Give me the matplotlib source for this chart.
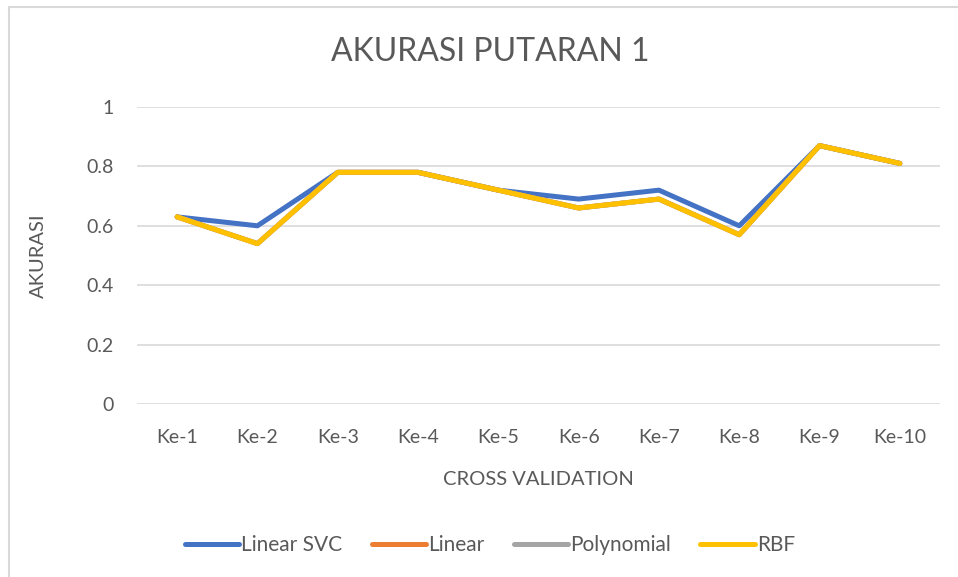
import matplotlib.pyplot as plt
from matplotlib.patches import Rectangle

# data
folds = ["Ke-1", "Ke-2", "Ke-3", "Ke-4", "Ke-5", "Ke-6", "Ke-7", "Ke-8", "Ke-9", "Ke-10"]
linear_svc = [0.63, 0.60, 0.78, 0.78, 0.72, 0.69, 0.72, 0.60, 0.87, 0.81]
linear = [0.63, 0.54, 0.78, 0.78, 0.72, 0.66, 0.69, 0.57, 0.87, 0.81]
polynomial = [0.63, 0.54, 0.78, 0.78, 0.72, 0.66, 0.69, 0.57, 0.87, 0.81]
rbf = [0.63, 0.54, 0.78, 0.78, 0.72, 0.66, 0.69, 0.57, 0.87, 0.81]
y_ticks = [0, 0.2, 0.4, 0.6, 0.8, 1]

text_color = "#595959"
plt.rcParams["font.family"] = ["Lato", "DejaVu Sans"]

fig = plt.figure(figsize=(9.58, 5.77), dpi=100)
ax = fig.add_axes([137 / 958, 1 - 404 / 577, (940 - 137) / 958, (404 - 107) / 577])

# chart border (cut off on right and bottom in the original)
fig.patches.append(Rectangle((9 / 958, -0.05), 1.2, 1 - 7 / 577 + 0.05,
                             transform=fig.transFigure, fill=False,
                             edgecolor="#D9D9D9", linewidth=1.5))

x = range(len(folds))
series = [
    ("Linear SVC", linear_svc, "#4472C4"),
    ("Linear", linear, "#ED7D31"),
    ("Polynomial", polynomial, "#A5A5A5"),
    ("RBF", rbf, "#FFC000"),
]
for name, values, color in series:
    ax.plot(x, values, color=color, linewidth=3.6, label=name,
            solid_capstyle="round", solid_joinstyle="round")

ax.set_xlim(-0.5, len(folds) - 0.5)
ax.set_ylim(0, 1)
ax.set_yticks(y_ticks)
ax.set_yticklabels(["0", "0.2", "0.4", "0.6", "0.8", "1"])
ax.set_xticks(list(x))
ax.set_xticklabels(folds)
ax.grid(axis="y", color="#D9D9D9", linewidth=1.2)
ax.set_axisbelow(True)
for s in ax.spines.values():
    s.set_visible(False)
ax.tick_params(axis="both", length=0, colors=text_color, labelsize=14)
ax.tick_params(axis="y", pad=17)
ax.tick_params(axis="x", pad=18)

fig.text(490 / 958, 1 - 52 / 577, "AKURASI PUTARAN 1", fontsize=23,
         color=text_color, ha="center", va="center")
ax.set_xlabel("CROSS VALIDATION", fontsize=14.5, color=text_color, labelpad=18)
ax.set_ylabel("AKURASI", fontsize=14.5, color=text_color, labelpad=28)

leg = fig.legend(loc="center", bbox_to_anchor=(490 / 958, 1 - 545 / 577), ncol=4,
                 frameon=False, fontsize=15, handlelength=2.6, handletextpad=0.12,
                 columnspacing=1.4, labelcolor=text_color)

fig.savefig("out.png", dpi=100)
